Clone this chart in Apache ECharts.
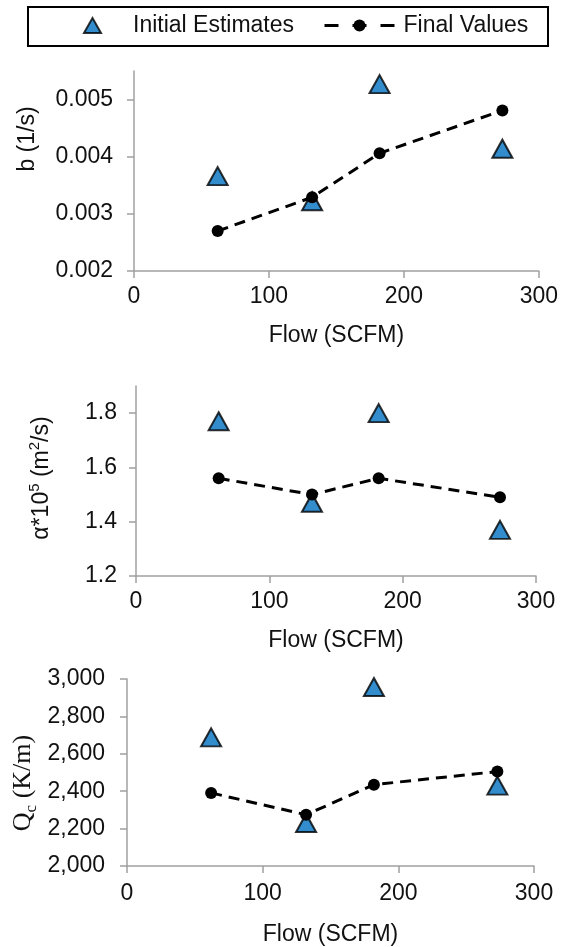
<!DOCTYPE html>
<html><head><meta charset="utf-8">
<script src="https://cdn.jsdelivr.net/npm/echarts@6/dist/echarts.min.js"></script>
<style>html,body{margin:0;padding:0;background:#fff}#c{width:561px;height:947px}</style>
</head><body><div id="c"></div>
<script>
// Data
const flow = [62, 132, 182, 273];
const bInitial = [0.00366, 0.00322, 0.00527, 0.00414];
const bFinal = [0.00270, 0.00329, 0.00406, 0.00481];
const alphaInitial = [1.77, 1.47, 1.80, 1.37];
const alphaFinal = [1.56, 1.50, 1.56, 1.49];
const qcInitial = [2688, 2230, 2957, 2430];
const qcFinal = [2391, 2274, 2435, 2505];
const xTicks = [0, 100, 200, 300];
const bTicks = [0.002, 0.003, 0.004, 0.005];
const alphaTicks = [1.2, 1.4, 1.6, 1.8];
const qcTicks = [2000, 2200, 2400, 2600, 2800, 3000];

const FONT = '"Liberation Sans", Arial, sans-serif';
const SERIF = '"Liberation Serif", "Times New Roman", serif';
const TXT = '#111';
const AXC = '#a0a0a0';

const pair = (xs, ys) => xs.map((x, i) => [x, ys[i]]);

const grids = [
  {left: 134, right: 20, top: 71, bottom: 676},
  {left: 136, right: 25, top: 386, bottom: 371},
  {left: 127, right: 27, top: 679, bottom: 78}
];

function xAxis(i, gap, margin) {
  return {
    type: 'value', gridIndex: i, min: 0, max: 300, interval: 100,
    name: 'Flow (SCFM)', nameLocation: 'middle', nameGap: gap,
    nameTextStyle: {fontFamily: FONT, fontSize: 23, color: TXT},
    axisLine: {onZero: false, lineStyle: {color: AXC, width: 1.5}},
    axisTick: {show: true, length: 7, customValues: xTicks, lineStyle: {color: AXC, width: 1.5}},
    axisLabel: {fontFamily: FONT, fontSize: 23, color: TXT, margin: margin, customValues: xTicks},
    splitLine: {show: false}
  };
}
function yAxis(i, min, max, ticks, margin, fmt) {
  return {
    type: 'value', gridIndex: i, min: min, max: max,
    axisLine: {show: true, onZero: false, lineStyle: {color: AXC, width: 1.5}},
    axisTick: {show: true, length: 7, customValues: ticks, lineStyle: {color: AXC, width: 1.5}},
    axisLabel: {fontFamily: FONT, fontSize: 23, color: TXT, margin: margin, customValues: ticks, formatter: fmt},
    splitLine: {show: false}
  };
}

const triStyle = {color: '#0070C0', borderColor: '#000', borderWidth: 2};
function scatter(i, ys) {
  return {name: 'Initial Estimates', type: 'scatter', xAxisIndex: i, yAxisIndex: i,
    symbol: 'triangle', symbolSize: [20, 18], itemStyle: triStyle, data: pair(flow, ys), z: 2};
}
function line(i, ys) {
  return {name: 'Final Values', type: 'line', xAxisIndex: i, yAxisIndex: i,
    symbol: 'circle', symbolSize: 12, showAllSymbol: true,
    itemStyle: {color: '#000'},
    lineStyle: {color: '#000', width: 3, type: [11, 7]},
    data: pair(flow, ys), z: 3, animation: false};
}

const chart = echarts.init(document.getElementById('c'), null, {renderer: 'canvas'});
chart.setOption({
  animation: false,
  backgroundColor: '#fff',
  grid: grids,
  xAxis: [xAxis(0, 53, 14), xAxis(1, 53, 14), xAxis(2, 57, 16)],
  yAxis: [
    yAxis(0, 0.002, 0.0055, bTicks, 21, v => v.toFixed(3)),
    yAxis(1, 1.2, 1.9, alphaTicks, 19, v => v.toFixed(1)),
    yAxis(2, 2000, 3000, qcTicks, 22, v => v.toLocaleString('en-US'))
  ],
  legend: [
    {data: ['Initial Estimates'], left: 83, top: 14, padding: 0, selectedMode: false,
     itemWidth: 17, itemHeight: 15,
     textStyle: {fontFamily: FONT, fontSize: 23, color: TXT, padding: [0, 0, 0, 27]}},
    {data: ['Final Values'], left: 323, top: 14, padding: 0, selectedMode: false,
     itemWidth: 70, itemHeight: 15,
     lineStyle: {color: '#000', width: 3, type: [14, 14]},
     textStyle: {fontFamily: FONT, fontSize: 23, color: TXT, padding: [0, 0, 0, 4]}}
  ],
  graphic: [
    {type: 'rect', shape: {x: 28, y: 7, width: 520, height: 39}, style: {fill: 'none', stroke: '#000', lineWidth: 2}, z: 10},
    {type: 'text', x: 28, y: 139, rotation: Math.PI / 2,
     style: {text: 'b (1/s)', fontFamily: FONT, fontSize: 23, fill: TXT, align: 'center', verticalAlign: 'middle'}},
    {type: 'text', x: 39, y: 478, rotation: Math.PI / 2,
     style: {text: '{a|α*10}{s|5}{a| (m}{s|2}{a|/s)}', align: 'center', verticalAlign: 'middle',
       rich: {a: {fontFamily: FONT, fontSize: 23, fill: TXT, lineHeight: 28, verticalAlign: 'bottom'},
              s: {fontFamily: FONT, fontSize: 15, fill: TXT, lineHeight: 28, verticalAlign: 'top', padding: [2, 0, 0, 0]}}}},
    {type: 'text', x: 25, y: 783, rotation: Math.PI / 2,
     style: {text: '{a|Q}{s|c}{a| (K/m)}', align: 'center', verticalAlign: 'middle',
       rich: {a: {fontFamily: SERIF, fontSize: 26, fill: TXT, lineHeight: 30, verticalAlign: 'top'},
              s: {fontFamily: SERIF, fontSize: 17, fill: TXT, lineHeight: 30, verticalAlign: 'bottom'}}}}
  ],
  series: [
    scatter(0, bInitial), line(0, bFinal),
    scatter(1, alphaInitial), line(1, alphaFinal),
    scatter(2, qcInitial), line(2, qcFinal)
  ]
});
</script></body></html>
